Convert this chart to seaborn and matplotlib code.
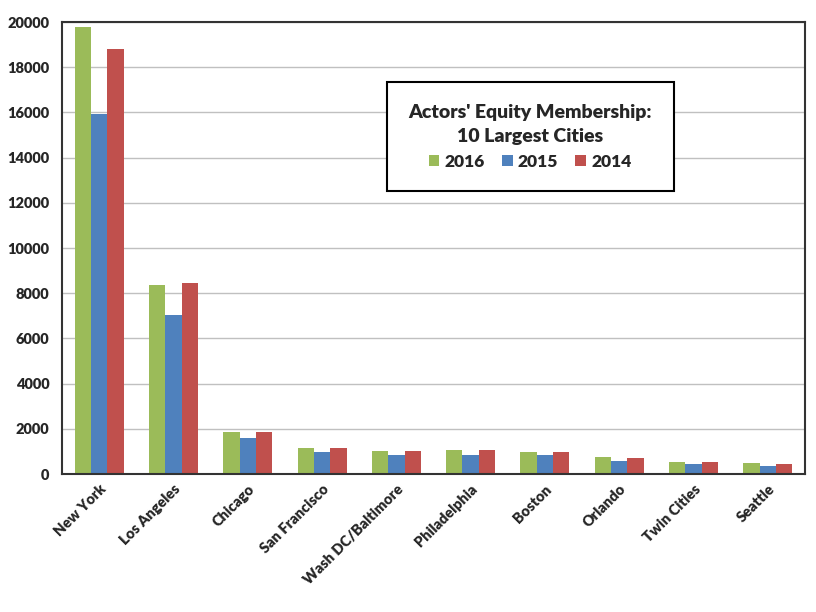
import pandas as pd
import matplotlib.pyplot as plt
import seaborn as sns
from matplotlib.ticker import MultipleLocator, FixedLocator

cities = ["New York", "Los Angeles", "Chicago", "San Francisco", "Wash DC/Baltimore",
          "Philadelphia", "Boston", "Orlando", "Twin Cities", "Seattle"]
members_2016 = [19800, 8360, 1840, 1140, 1020, 1050, 990, 750, 530, 470]
members_2015 = [15930, 7020, 1580, 960, 840, 840, 830, 580, 430, 370]
members_2014 = [18790, 8470, 1840, 1140, 1030, 1050, 960, 710, 520, 460]
years = ["2016", "2015", "2014"]
colors = ["#9BBB59", "#4F81BD", "#C0504D"]

df = pd.concat([
    pd.DataFrame({"city": cities, "year": y, "members": v})
    for y, v in zip(years, [members_2016, members_2015, members_2014])
])

sns.set_style("white")
plt.rcParams["font.family"] = ["Lato", "DejaVu Sans"]
plt.rcParams["font.weight"] = "bold"

fig = plt.figure(figsize=(8.16, 6.12), dpi=100)
ax = fig.add_axes([62 / 816, 1 - 474 / 612, 743 / 816, 452 / 612])

sns.barplot(data=df, x="city", y="members", hue="year", hue_order=years,
            palette=colors, width=0.66, saturation=1, linewidth=0, ax=ax, legend=True)

ax.set_ylim(0, 20000)
ax.set_xlim(-0.5, len(cities) - 0.5)
ax.yaxis.set_major_locator(MultipleLocator(2000))
ax.grid(axis="y", color="#c0c0c0", linewidth=1)
ax.set_axisbelow(True)
ax.set_xlabel("")
ax.set_ylabel("")

for s in ax.spines.values():
    s.set_visible(True)
    s.set_color("#333333")
    s.set_linewidth(1.5)

ax.tick_params(axis="y", length=0, labelsize=10.5, pad=9)
ax.tick_params(axis="x", which="major", length=0, labelsize=10.5, pad=6)
ax.xaxis.set_minor_locator(FixedLocator([i - 0.5 for i in range(len(cities) + 1)]))
ax.tick_params(axis="x", which="minor", length=5, color="#888888", direction="out")
plt.setp(ax.get_xticklabels(), rotation=45, ha="right", rotation_mode="anchor", fontweight="heavy")
plt.setp(ax.get_yticklabels(), fontweight="heavy")

handles, labels = ax.get_legend_handles_labels()
leg = ax.legend(handles, labels, title="Actors' Equity Membership:\n10 Largest Cities",
                loc="center", bbox_to_anchor=(0.63, 0.746), ncol=3, frameon=True,
                fancybox=False, edgecolor="black", framealpha=1, fontsize=12.5,
                title_fontsize=14, handlelength=0.6, handleheight=0.6,
                handletextpad=0.3, columnspacing=1.0, borderpad=1.25)
leg.get_frame().set_linewidth(1.5)
leg.get_title().set_fontweight("heavy")
leg.get_title().set_multialignment("center")
leg.get_title().set_linespacing(1.5)
for t in leg.get_texts():
    t.set_fontweight("heavy")

fig.savefig("out.png", dpi=100)
